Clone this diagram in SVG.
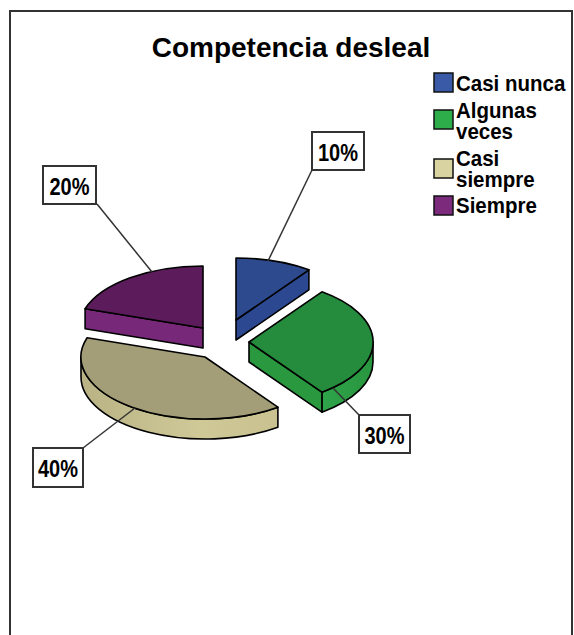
<svg xmlns="http://www.w3.org/2000/svg" width="574" height="635" viewBox="0 0 574 635">
<style>
.t{font-family:"Liberation Sans",Arial,sans-serif;font-weight:bold;fill:#000}
.lg{font-size:20.5px}
.pc{font-size:20px;text-anchor:middle}
.box{fill:#fff;stroke:#333;stroke-width:2}
.ld{stroke:#333;stroke-width:1.5;fill:none}
.o{stroke:#000;stroke-width:1.6;stroke-linejoin:round}
.sq{stroke:#111;stroke-width:1.5}
</style>
<defs>
<linearGradient id="tanSide" x1="0" y1="0" x2="1" y2="0">
<stop offset="0" stop-color="#b9b385"/><stop offset="0.6" stop-color="#cfc897"/><stop offset="1" stop-color="#c9c290"/>
</linearGradient>
<linearGradient id="greenSide" x1="0" y1="0" x2="1" y2="0">
<stop offset="0" stop-color="#2fa44a"/><stop offset="1" stop-color="#28963f"/>
</linearGradient>
</defs>
<rect x="0" y="0" width="574" height="635" fill="#fff"/>
<path d="M10,640 L10,11 L572,11 L572,640" fill="none" stroke="#333" stroke-width="2"/>
<text class="t" x="291" y="57" text-anchor="middle" font-size="28">Competencia desleal</text>

<g id="legend">
<g id="legend-casi-nunca"><rect class="sq" x="434" y="73" width="19" height="19" fill="#3a5aa8"/>
<text class="t lg" transform="translate(456,91) scale(1,1.06)">Casi nunca</text></g>
<g id="legend-algunas-veces"><rect class="sq" x="434" y="110" width="19" height="19" fill="#2eae4a"/>
<text class="t lg" transform="translate(456,118) scale(1,1.06)">Algunas</text>
<text class="t lg" transform="translate(456,139) scale(1,1.06)">veces</text></g>
<g id="legend-casi-siempre"><rect class="sq" x="434" y="159" width="19" height="19" fill="#d8d3a0"/>
<text class="t lg" transform="translate(456,166) scale(1,1.06)">Casi</text>
<text class="t lg" transform="translate(456,187) scale(1,1.06)">siempre</text></g>
<g id="legend-siempre"><rect class="sq" x="434" y="196" width="19" height="19" fill="#7b2a7c"/>
<text class="t lg" transform="translate(456,213) scale(1,1.06)">Siempre</text></g>
</g>

<g id="slice-siempre">
<path class="o" d="M203,328 L85.1,308.8 L85.1,328.8 L203,348 Z" fill="#782878"/>
<path class="o" d="M203,328 L85.1,308.8 A124,62 0 0,1 203,266 Z" fill="#5c1c5c"/>
</g>
<g id="slice-casi-nunca">
<path class="o" d="M236,320 L308.9,269.8 L308.9,289.8 L236,340 Z" fill="#2c4890"/>
<path class="o" d="M236,320 L236,258 A124,62 0 0,1 308.9,269.8 Z" fill="#2e4a8e"/>
</g>
<g id="slice-casi-siempre">
<path class="o" d="M277.9,407.2 A124,62 0 0,1 81,357 L81,377 A124,62 0 0,0 277.9,427.2 Z" fill="url(#tanSide)"/>
<path class="o" d="M205,357 L277.9,407.2 A124,62 0 0,1 87.1,337.8 Z" fill="#a39e78"/>
</g>
<g id="slice-algunas-veces">
<path class="o" d="M373,342 A124,62 0 0,1 321.9,392.2 L321.9,412.2 A124,62 0 0,0 373,362 Z" fill="url(#greenSide)"/>
<path class="o" d="M249,342 L321.9,392.2 L321.9,412.2 L249,362 Z" fill="#29983f"/>
<path class="o" d="M249,342 L321.9,291.8 A124,62 0 0,1 321.9,392.2 Z" fill="#248c3c"/>
</g>

<g id="connectors">
<line class="ld" x1="312" y1="170" x2="268" y2="261"/>
<line class="ld" x1="97" y1="204" x2="152" y2="272"/>
<line class="ld" x1="333" y1="388" x2="359" y2="415"/>
<line class="ld" x1="83" y1="448" x2="135" y2="408"/>
</g>

<g id="label-10"><rect class="box" x="312" y="132" width="52" height="38"/>
<text class="t pc" transform="translate(338,161) scale(1,1.15)">10%</text></g>
<g id="label-20"><rect class="box" x="43" y="166" width="53" height="38"/>
<text class="t pc" transform="translate(69.5,195) scale(1,1.15)">20%</text></g>
<g id="label-30"><rect class="box" x="359" y="415" width="51" height="38"/>
<text class="t pc" transform="translate(384.5,444) scale(1,1.15)">30%</text></g>
<g id="label-40"><rect class="box" x="33" y="448" width="50" height="39"/>
<text class="t pc" transform="translate(58,477) scale(1,1.15)">40%</text></g>
</svg>
